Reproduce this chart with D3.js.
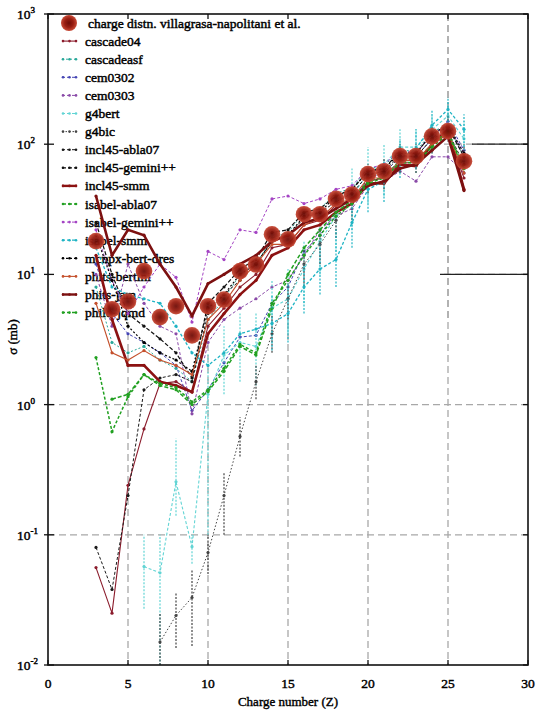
<!DOCTYPE html>
<html>
<head>
<meta charset="utf-8">
<script src="https://cdn.jsdelivr.net/npm/d3@7"></script>
<style>
  body { margin: 0; background: #fff; }
  svg { font-family: "Liberation Serif", "DejaVu Serif", serif; }
</style>
</head>
<body>
<svg width="539" height="715"></svg>
<script>
const svg = d3.select('svg')

// ---- data ----
const charges = [3,4,5,6,7,8,9,10,11,12,13,14,15,16,17,18,19,20,21,22,23,24,25,26]
const xTicks = [0,5,10,15,20,25,30]
const yTicks = [-2,-1,0,1,2,3]   // powers of ten

const expData        = [18,5.4,6.2,10.6,4.7,5.7,3.4,5.7,6.4,10.6,11.9,20.3,18.6,29,29,38,41,59,62,81,81,115,126,74]
const cascade04      = [0.056,0.025,0.24,0.65,1.45,1.5,1.25,4.0,5.5,8,10,16,17,24,26,34,37,52,55,72,72,100,120,55]
const cascadeasf     = [8,3,2.5,2.8,2.2,1.9,1.5,4.5,6.5,10,12,19,21,30,32,42,46,65,68,90,88,125,140,80]
const cem0302        = [12,5,3.5,3,2.5,2,0.9,1.3,2.1,3.3,3.4,6,8,15,20,30,35,55,60,80,80,110,150,90]
const cem0303        = [10,4,12,6,4,3.5,0.85,3.0,4.5,5.5,6.5,8,9,14,22,28,32,48,52,62,52,80,80,60]
const g4bert         = [null,null,null,0.057,0.051,0.255,0.081,1.2,2.4,3.0,2.8,5.5,6.5,11,18,28,40,60,70,95,95,130,165,110]
const g4bic          = [null,null,null,null,0.015,0.024,0.033,0.073,0.2,0.57,1.5,3.5,6.5,12,17,26,36,55,60,80,80,110,140,80]
const incl45abla07   = [0.08,0.038,0.2,1.3,1.6,1.7,1.5,5,7,9,12,18,20,27,30,36,42,58,62,82,80,110,125,70]
const incl45gemini   = [25,10,5,4,3.2,2.5,1.6,6,8,11,13,21,22,30,32,40,45,62,65,88,85,120,135,80]
const incl45smm      = [14,4.5,2.0,2.0,1.5,1.4,1.25,3.5,5,7,9,14,16,22,24,30,35,50,50,70,68,100,130,45]
const isabelabla07   = [null,1.1,1.2,1.7,1.4,1.3,1.0,1.26,1.8,2.8,2.4,5.5,10,16,22,30,37,52,56,75,75,100,125,65]
const isabelgemini   = [22,9,5,8,12,9.5,4.3,15,13,22,21,38,40,35,38,45,48,65,70,90,85,120,140,85]
const isabelsmm      = [16,8,7,6.5,6,4,2.5,2.0,2.5,3.5,3.8,4.2,5,8,11,13,25,45,52,78,92,140,185,130]
const mcnpx          = [20,9,4,3,2.5,2.2,1.8,5.5,7,10,12,18,20,28,30,40,45,62,65,85,85,120,140,85]
const phitsbertini   = [6,2.5,2.2,2.6,2.2,2.0,1.7,4.5,6,9,12,17,17,24,27,35,38,55,55,75,75,100,120,60]
const phitsjam       = [40,14,22,20,12,8,4.8,8.5,10,12,14,18,20,25,27,32,38,48,52,65,70,90,115,44]
const phitsjqmd      = [2.3,0.62,1.15,1.7,1.45,1.35,1.05,1.3,1.9,2.9,2.5,6,9,14,20,28,35,50,55,72,72,95,120,65]

// error bars (low, high) where they are visible
const g4bertLo  = [null,null,null,0.027,0.01,0.14,0.06,0.1,1.2,1.5,1.4,3,3.5,6,10,15,22,35,40,60,60,85,110,75]
const g4bertHi  = [null,null,null,0.1,0.1,0.55,0.1,2.5,4,5,5,9,11,18,28,45,65,95,100,130,130,170,210,150]
const g4bicLo   = [null,null,null,null,0.01,0.0135,0.014,0.05,0.1,0.4,1.1,2.5,4.5,8,12,19,26,42,45,60,60,85,110,60]
const g4bicHi   = [null,null,null,null,0.025,0.036,0.054,0.1,0.3,0.8,2,4.8,8.5,16,22,34,46,70,78,100,100,140,170,100]
const isSmmLo   = [null,null,null,null,null,null,null,null,null,null,null,2.6,3,5,7,8,16,30,36,55,65,100,140,95]
const isSmmHi   = [null,null,null,null,null,null,null,null,null,null,null,7,8.5,12,17,22,38,65,75,110,130,185,230,170]

const legendNames = [
  'charge distn. villagrasa-napolitani et al.',
  'cascade04','cascadeasf','cem0302','cem0303','g4bert','g4bic',
  'incl45-abla07','incl45-gemini++','incl45-smm','isabel-abla07',
  'isabel-gemini++','isabel-smm','mcnpx-bert-dres','phits-bertini',
  'phits-jam','philo-jqmd'
]

const series = [
  {values: cascade04,    color: '#8b1c2c', dash: null,  width: 1.1},
  {values: cascadeasf,   color: '#2aa89a', dash: '2,2', width: 1},
  {values: cem0302,      color: '#4646b4', dash: '3,2', width: 1},
  {values: cem0303,      color: '#8a4aa8', dash: '3,2', width: 1},
  {values: g4bert,       color: '#62d4d4', dash: '3,2', width: 1.1, lo: g4bertLo, hi: g4bertHi},
  {values: g4bic,        color: '#444444', dash: '1.5,2', width: 1, lo: g4bicLo, hi: g4bicHi},
  {values: incl45abla07, color: '#1a1a1a', dash: '3,2', width: 1},
  {values: incl45gemini, color: '#111111', dash: '4,2', width: 1.2},
  {values: incl45smm,    color: '#8c1212', dash: null,  width: 2.6},
  {values: isabelabla07, color: '#22a022', dash: '4,2', width: 1.5},
  {values: isabelgemini, color: '#a444c4', dash: '3,2', width: 1},
  {values: isabelsmm,    color: '#1fb4c4', dash: '3,2', width: 1.3, lo: isSmmLo, hi: isSmmHi},
  {values: mcnpx,        color: '#000000', dash: '2,2', width: 1.2},
  {values: phitsbertini, color: '#c4502c', dash: null,  width: 1.1},
  {values: phitsjam,     color: '#7c1010', dash: null,  width: 2.6},
  {values: phitsjqmd,    color: '#20a020', dash: '3,2', width: 1.5}
]

// ---- scales ----
const x = d3.scaleLinear().domain([0, 30]).range([48, 528])
const y = d3.scaleLog().domain([0.01, 1000]).range([665, 14])

const defs = svg.append('defs')
const grad = defs.append('radialGradient').attr('id', 'dot')
grad.append('stop').attr('offset', '0%').attr('stop-color', '#6e0c06')
grad.append('stop').attr('offset', '55%').attr('stop-color', '#9a1e12')
grad.append('stop').attr('offset', '100%').attr('stop-color', '#c84a36')
defs.append('clipPath').attr('id', 'plot').append('rect')
    .attr('x', 48).attr('y', 14).attr('width', 480).attr('height', 651)

// grid
const grid = svg.append('g').attr('stroke', '#a8a8a8').attr('stroke-width', 1.3).attr('stroke-dasharray', '7,4')
grid.selectAll('.gx').data(xTicks.slice(1, -1)).enter().append('line')
    .attr('x1', d => x(d)).attr('x2', d => x(d)).attr('y1', 14).attr('y2', 665)
grid.selectAll('.gy').data(yTicks.slice(1, -1)).enter().append('line')
    .attr('y1', d => y(Math.pow(10, d))).attr('y2', d => y(Math.pow(10, d))).attr('x1', 48).attr('x2', 528)

// legend background hides the grid behind it
svg.append('rect').attr('x', 49).attr('y', 15).attr('width', 394).attr('height', 306).attr('fill', '#fff')
svg.append('line').attr('x1', x(25)).attr('x2', x(25)).attr('y1', 14).attr('y2', 322)
   .attr('stroke', '#a8a8a8').attr('stroke-width', 1.3).attr('stroke-dasharray', '7,4')
// the two dark grid stubs on the right
svg.append('line').attr('x1', x(26.5)).attr('x2', x(30)).attr('y1', y(100)).attr('y2', y(100)).attr('stroke', '#222').attr('stroke-width', 1.3)
svg.append('line').attr('x1', x(24.5)).attr('x2', x(30)).attr('y1', y(10)).attr('y2', y(10)).attr('stroke', '#222').attr('stroke-width', 1.3)

// legend
const legend = svg.append('g')
legendNames.forEach((name, i) => {
  const ly = 23 + i * 18.1
  if (i === 0) {
    legend.append('circle').attr('cx', 69).attr('cy', ly).attr('r', 8).attr('fill', 'url(#dot)')
  } else {
    const s = series[i - 1]
    legend.append('line').attr('x1', 62).attr('x2', 77).attr('y1', ly).attr('y2', ly)
      .attr('stroke', s.color).attr('stroke-width', Math.min(s.width, 2.4)).attr('stroke-dasharray', s.dash)
    ;[63, 69.5, 76].forEach(px => legend.append('circle').attr('cx', px).attr('cy', ly).attr('r', 1.3).attr('fill', s.color))
  }
  legend.append('text').attr('x', i === 0 ? 88 : 85).attr('y', ly + 4.5).attr('font-size', 13.5)
    .attr('stroke', '#000').attr('stroke-width', 0.45).text(name)
})

// series
const plot = svg.append('g').attr('clip-path', 'url(#plot)')
const line = d3.line().defined(d => d.v != null).x(d => x(d.z)).y(d => y(d.v))

series.forEach(s => {
  const pts = charges.map((z, i) => ({z: z, v: s.values[i], lo: s.lo ? s.lo[i] : null, hi: s.hi ? s.hi[i] : null}))
  const g = plot.append('g')
  g.append('path').datum(pts).attr('d', line).attr('fill', 'none')
    .attr('stroke', s.color).attr('stroke-width', s.width).attr('stroke-dasharray', s.dash)
  if (s.lo) {
    g.selectAll('.eb').data(pts.filter(d => d.lo != null)).enter().append('line')
      .attr('x1', d => x(d.z)).attr('x2', d => x(d.z)).attr('y1', d => y(d.lo)).attr('y2', d => y(d.hi))
      .attr('stroke', s.color).attr('stroke-width', 1.2).attr('stroke-dasharray', '2,1.5')
  }
  g.selectAll('.pt').data(pts.filter(d => d.v != null)).enter().append('circle')
    .attr('cx', d => x(d.z)).attr('cy', d => y(d.v)).attr('r', 1.6).attr('fill', s.color)
})

// experiment
plot.selectAll('.exp').data(charges.map((z, i) => ({z: z, v: expData[i]}))).enter().append('circle')
  .attr('cx', d => x(d.z)).attr('cy', d => y(d.v)).attr('r', 8.3).attr('fill', 'url(#dot)').attr('opacity', 0.95)

// frame and ticks
svg.append('rect').attr('x', 48).attr('y', 14).attr('width', 480).attr('height', 651)
   .attr('fill', 'none').attr('stroke', '#111').attr('stroke-width', 1.6)
const ticks = svg.append('g').attr('stroke', '#111').attr('stroke-width', 1.3)
xTicks.forEach(t => {
  ticks.append('line').attr('x1', x(t)).attr('x2', x(t)).attr('y1', 665).attr('y2', 660)
  ticks.append('line').attr('x1', x(t)).attr('x2', x(t)).attr('y1', 14).attr('y2', 19)
})
yTicks.forEach(t => {
  ticks.append('line').attr('y1', y(Math.pow(10, t))).attr('y2', y(Math.pow(10, t))).attr('x1', 44).attr('x2', 54)
  ticks.append('line').attr('y1', y(Math.pow(10, t))).attr('y2', y(Math.pow(10, t))).attr('x1', 523).attr('x2', 528)
})

// tick labels
svg.selectAll('.xl').data(xTicks).enter().append('text')
  .attr('x', d => x(d)).attr('y', 688).attr('text-anchor', 'middle').attr('font-size', 13.5)
  .attr('stroke', '#000').attr('stroke-width', 0.45).text(d => d)
yTicks.forEach(t => {
  const tx = svg.append('text').attr('x', 17).attr('y', y(Math.pow(10, t)) + 5).attr('font-size', 13.5)
    .attr('stroke', '#000').attr('stroke-width', 0.45)
  tx.append('tspan').text('10')
  tx.append('tspan').attr('dy', -6).attr('font-size', 9).text(t)
})

// axis titles
svg.append('text').attr('x', 288).attr('y', 706).attr('text-anchor', 'middle').attr('font-size', 13)
  .attr('stroke', '#000').attr('stroke-width', 0.4).text('Charge number (Z)')
svg.append('text').attr('transform', 'translate(17,337) rotate(-90)').attr('text-anchor', 'middle')
  .attr('font-size', 13).attr('stroke', '#000').attr('stroke-width', 0.4).text('σ (mb)')
</script>
</body>
</html>
